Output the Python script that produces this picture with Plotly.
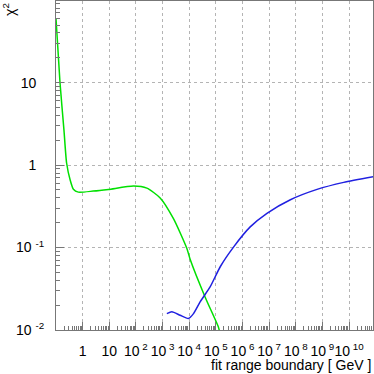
import plotly.graph_objects as go

# chi2 vs fit range boundary
green_x = [0.1, 0.141, 0.2, 0.25, 0.34, 0.45, 0.69, 2.5, 9.3, 81, 257, 813,
           2570, 8130, 11000, 39800, 123000, 141000]
green_y = [60, 10.1, 2.6, 1.06, 0.66, 0.51, 0.47, 0.484, 0.507, 0.556, 0.525, 0.40,
           0.224, 0.098, 0.071, 0.025, 0.011, 0.0093]

blue_x = [1450, 2240, 4570, 9300, 14500, 25700, 61700, 148000, 468000, 1.95e6,
          8.3e6, 6.3e7, 6.3e8, 6.3e9, 8.5e10]
blue_y = [0.0158, 0.0166, 0.0151, 0.0138, 0.0158, 0.0219, 0.0335, 0.0589, 0.102,
          0.178, 0.26, 0.38, 0.507, 0.617, 0.724]

x_tickvals = [10 ** k for k in range(0, 11)]
x_ticktext = ["1", "10"] + ["10<sup> %d</sup>" % k for k in range(2, 11)]
y_tickvals = [0.01, 0.1, 1, 10]
y_ticktext = ["10 <sup>-2</sup>", "10 <sup>-1</sup>", "1&nbsp;&nbsp;", "10&nbsp;&nbsp;"]

x_minor = [m * 10 ** k for k in range(-1, 11) for m in range(2, 10)]
y_minor = [m * 10 ** k for k in range(-2, 2) for m in range(2, 10)]

FONT = "Liberation Sans, Arial, sans-serif"
AXIS = "#777777"
GRID = "#b4b4b4"


def main():
    fig = go.Figure()
    fig.add_trace(go.Scatter(x=green_x, y=green_y, mode="lines",
                             line=dict(color="#00e000", width=1.5, shape="spline", smoothing=0.6)))
    fig.add_trace(go.Scatter(x=blue_x, y=blue_y, mode="lines",
                             line=dict(color="#2020e0", width=1.5, shape="spline", smoothing=0.6)))

    fig.update_layout(
        width=374, height=374,
        margin=dict(l=56, r=1, t=1, b=44),
        paper_bgcolor="white", plot_bgcolor="white",
        showlegend=False,
        font=dict(family=FONT, size=14, color="black"),
    )
    fig.update_xaxes(
        type="log", range=[-1, 10.9],
        tickmode="array", tickvals=x_tickvals, ticktext=x_ticktext,
        tickangle=0, automargin=False,
        ticks="inside", ticklen=8, tickcolor=AXIS,
        showline=True, linecolor=AXIS, linewidth=1, mirror=True,
        showgrid=True, gridcolor=GRID, griddash="dot", gridwidth=1,
        zeroline=False, ticklabelstandoff=8,
        minor=dict(tickmode="array", tickvals=x_minor, ticks="inside",
                   ticklen=4, tickcolor=AXIS, showgrid=False),
    )
    fig.update_yaxes(
        type="log", range=[-2, 1.99],
        tickmode="array", tickvals=y_tickvals, ticktext=y_ticktext,
        automargin=False,
        ticks="inside", ticklen=8, tickcolor=AXIS,
        showline=True, linecolor=AXIS, linewidth=1, mirror=True,
        showgrid=True, gridcolor=GRID, griddash="dot", gridwidth=1,
        zeroline=False, ticklabelstandoff=8,
        minor=dict(tickmode="array", tickvals=y_minor, ticks="inside",
                   ticklen=4, tickcolor=AXIS, showgrid=False),
    )

    fig.add_annotation(text="\u03c7<sup>2</sup>", xref="paper", yref="paper",
                       x=-0.15, y=1.0, xanchor="center", yanchor="top",
                       textangle=-90, showarrow=False, font=dict(size=14))
    fig.add_annotation(text="fit range boundary [ GeV ]", xref="paper", yref="paper",
                       x=1.0, y=-0.106, xanchor="right", yanchor="middle",
                       showarrow=False, font=dict(size=14))

    # page body has a default 8px margin; drop it so the figure fills the window
    fig.write_html("out.html", config={"displayModeBar": False},
                   post_script="document.body.style.margin='0';")


if __name__ == "__main__":
    main()
